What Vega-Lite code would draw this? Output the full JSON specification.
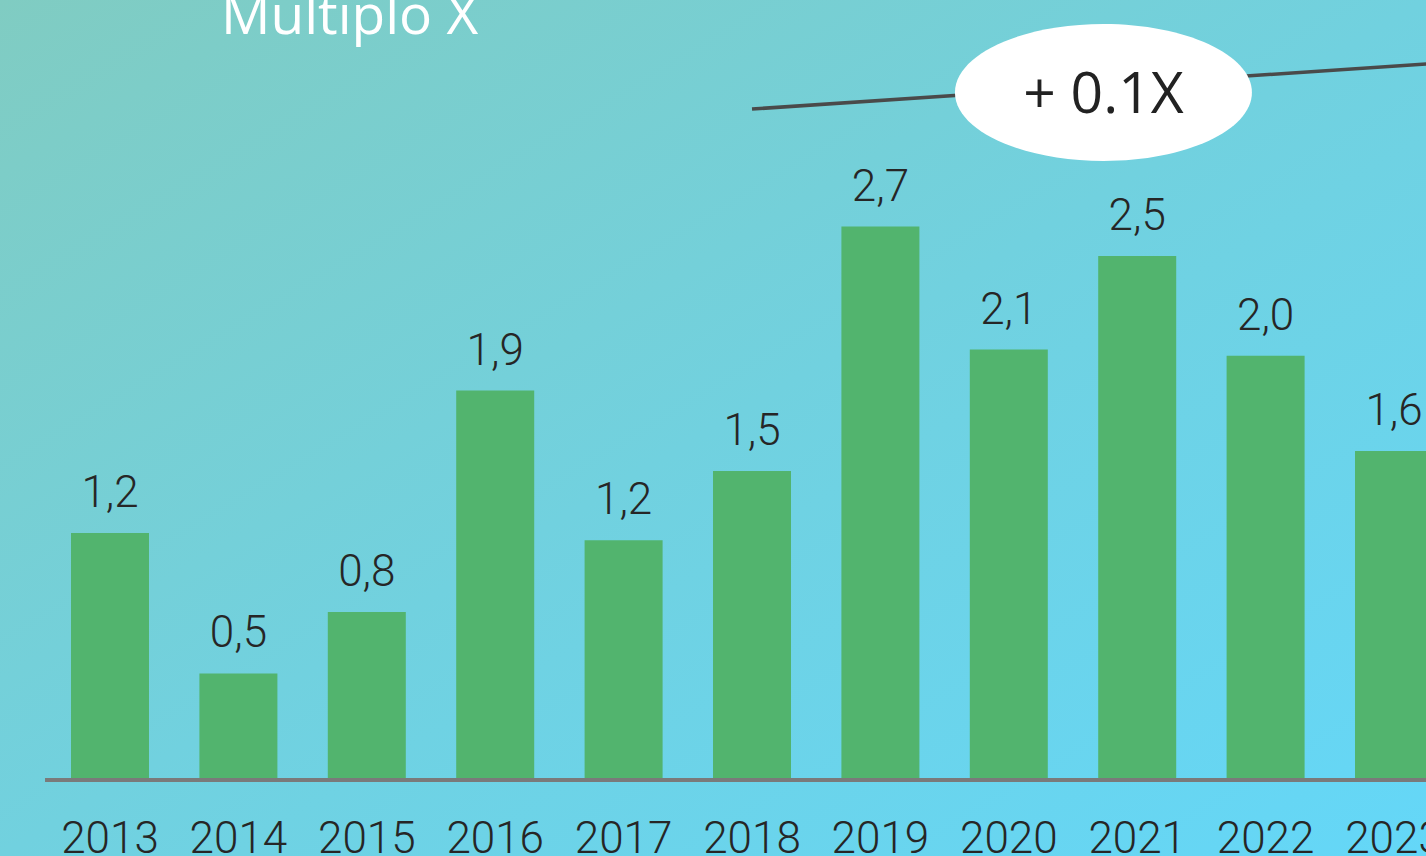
{
  "$schema": "https://vega.github.io/schema/vega-lite/v6.json",
  "width": 1426,
  "height": 856,
  "padding": 0,
  "autosize": "none",
  "background": "#72d1dc",
  "config": {
    "view": {
      "stroke": null,
      "fill": {
        "gradient": "linear",
        "x1": 0, "y1": 0, "x2": 1, "y2": 1,
        "stops": [
          {"offset": 0, "color": "#80ccc2"},
          {"offset": 0.5, "color": "#71d1df"},
          {"offset": 1, "color": "#64d7f8"}
        ]
      }
    }
  },
  "title": {
    "text": "Multiplo X",
    "anchor": "start",
    "frame": "group",
    "offset": -46,
    "dx": 221,
    "fontSize": 55,
    "font": "Open Sans",
    "fontWeight": 500,
    "color": "#ffffff"
  },
  "datasets": {
    "bars": [
      {"year": 2013, "value": 1.205, "label": "1,2"},
      {"year": 2014, "value": 0.52, "label": "0,5"},
      {"year": 2015, "value": 0.82, "label": "0,8"},
      {"year": 2016, "value": 1.9, "label": "1,9"},
      {"year": 2017, "value": 1.17, "label": "1,2"},
      {"year": 2018, "value": 1.507, "label": "1,5"},
      {"year": 2019, "value": 2.7, "label": "2,7"},
      {"year": 2020, "value": 2.1, "label": "2,1"},
      {"year": 2021, "value": 2.556, "label": "2,5"},
      {"year": 2022, "value": 2.07, "label": "2,0"},
      {"year": 2023, "value": 1.605, "label": "1,6"}
    ],
    "trend": [
      {"year": 2018.0, "value": 3.273},
      {"year": 2023.5, "value": 3.503}
    ],
    "baseline": [
      {"start": 2012.494, "end": 2024}
    ],
    "note": [
      {"year": 2020.737, "value": 3.354, "text": "+ 0.1X"}
    ]
  },
  "layer": [
    {
      "data": {"name": "bars"},
      "mark": {"type": "bar", "width": 78, "color": "#52b46e"},
      "encoding": {
        "x": {"field": "year", "type": "quantitative", "scale": {"domain": [2012.1433, 2023.2492], "nice": false, "zero": false, "padding": 0}, "axis": null},
        "y": {"field": "value", "type": "quantitative", "scale": {"domain": [-0.3707, 3.8049], "nice": false, "zero": false, "padding": 0}, "axis": null}
      }
    },
    {
      "data": {"name": "baseline"},
      "mark": {"type": "rule", "color": "#7a7a7a", "strokeWidth": 4},
      "encoding": {
        "x": {"field": "start", "type": "quantitative"},
        "x2": {"field": "end"},
        "y": {"datum": 0, "type": "quantitative"}
      }
    },
    {
      "data": {"name": "bars"},
      "mark": {"type": "text", "font": "Roboto", "fontWeight": 300, "fontSize": 44, "color": "#262626", "baseline": "alphabetic", "dy": -26},
      "encoding": {
        "x": {"field": "year", "type": "quantitative"},
        "y": {"field": "value", "type": "quantitative"},
        "text": {"field": "label"}
      }
    },
    {
      "data": {"name": "bars"},
      "mark": {"type": "text", "font": "Roboto", "fontWeight": 300, "fontSize": 44, "color": "#262626", "baseline": "alphabetic", "dy": 73},
      "encoding": {
        "x": {"field": "year", "type": "quantitative"},
        "y": {"datum": 0, "type": "quantitative"},
        "text": {"field": "year", "type": "quantitative", "format": "d"}
      }
    },
    {
      "data": {"name": "trend"},
      "mark": {"type": "line", "color": "#4a4a4a", "strokeWidth": 3.5},
      "encoding": {
        "x": {"field": "year", "type": "quantitative"},
        "y": {"field": "value", "type": "quantitative"}
      }
    },
    {
      "data": {"name": "note"},
      "mark": {"type": "point", "filled": true, "fill": "#ffffff", "opacity": 1, "strokeWidth": 0, "size": 88209, "shape": "M -1 0 A 1 0.461 0 1 1 1 0 A 1 0.461 0 1 1 -1 0 Z"},
      "encoding": {
        "x": {"field": "year", "type": "quantitative"},
        "y": {"field": "value", "type": "quantitative"}
      }
    },
    {
      "data": {"name": "note"},
      "mark": {"type": "text", "font": "Open Sans", "fontSize": 57, "color": "#222222", "baseline": "middle", "dy": 4},
      "encoding": {
        "x": {"field": "year", "type": "quantitative"},
        "y": {"field": "value", "type": "quantitative"},
        "text": {"field": "text"}
      }
    }
  ]
}
